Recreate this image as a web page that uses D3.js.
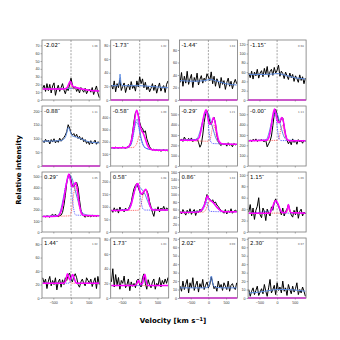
<!DOCTYPE html>
<html>
<head>
<meta charset="utf-8">
<script src="https://cdn.jsdelivr.net/npm/d3@7"></script>
<style>
  body { margin: 0; background: #fff; }
</style>
</head>
<body>
<div id="chart"></div>
<script>
/* global d3 */
const offsets = ['-2.02', '-1.73', '-1.44', '-1.15', '-0.88', '-0.58', '-0.29', '-0.00',
  '0.29', '0.58', '0.86', '1.15', '1.44', '1.73', '2.02', '2.30']
const chiLabels = ['1.06', '1.02', '1.04', '0.98', '1.11', '1.09', '1.21', '1.13',
  '1.05', '1.08', '1.04', '1.06', '1.02', '1.03', '0.99', '0.97']
const yTop = [77, 88, 96, 129, 218, 494, 581, 580, 539, 238, 160, 105, 89, 82, 71, 71]
const yStep = [10, 20, 20, 20, 50, 100, 100, 100, 100, 50, 20, 20, 20, 20, 10, 10]
const xTicks = [-500, 0, 500]

const velocity = [-800, -760, -720, -680, -640, -600, -560, -520, -480, -440, -400, -360, -320, -280,
  -240, -200, -160, -120, -80, -40, 0, 40, 80, 120, 160, 200, 240, 280, 320, 360, 400, 440, 480,
  520, 560, 600, 640, 680, 720, 760, 800]

// observed spectra, one row per offset
const spectra = [
  [15, 19, 11, 21, 12, 20, 9, 18, 22, 6, 14, 19, 11, 16, 21, 13, 8, 15, 12, 20, 28, 19, 14, 17, 11, 15, 9, 16, 13, 10, 15, 8, 12, 14, 10, 16, 7, 13, 18, 9, 3],
  [22, 16, 28, 12, 24, 18, 30, 14, 20, 25, 11, 19, 23, 15, 27, 17, 21, 13, 28, 19, 34, 24, 31, 18, 26, 15, 20, 12, 17, 24, 14, 22, 10, 18, 25, 13, 19, 21, 11, 23, 28],
  [28, 44, 22, 38, 27, 46, 25, 34, 41, 20, 36, 29, 43, 24, 33, 39, 27, 35, 30, 42, 37, 31, 45, 26, 38, 22, 34, 29, 19, 36, 25, 31, 17, 28, 35, 22, 30, 18, 27, 33, 26],
  [58, 48, 62, 45, 60, 52, 66, 47, 58, 63, 50, 68, 55, 72, 49, 61, 66, 53, 70, 58, 64, 75, 51, 62, 57, 46, 60, 52, 44, 58, 48, 55, 40, 52, 46, 38, 54, 42, 50, 35, 47],
  [92, 85, 97, 88, 94, 80, 96, 87, 99, 84, 93, 86, 101, 90, 98, 104, 112, 125, 150, 138, 120, 112, 118, 106, 115, 100, 108, 95, 103, 88, 96, 82, 90, 78, 92, 80, 86, 94, 79, 88, 84],
  [148, 152, 145, 155, 150, 147, 153, 149, 156, 151, 146, 154, 160, 172, 205, 280, 370, 440, 455, 420, 360, 320, 310, 275, 290, 225, 190, 160, 140, 132, 138, 128, 135, 125, 131, 122, 128, 134, 126, 130, 124],
  [245, 262, 238, 280, 255, 243, 268, 250, 272, 236, 258, 249, 265, 230, 182, 210, 300, 420, 505, 535, 490, 430, 400, 445, 470, 410, 300, 235, 210, 198, 220, 205, 215, 192, 225, 200, 212, 186, 218, 205, 210],
  [240, 252, 236, 258, 245, 262, 238, 250, 247, 255, 241, 236, 248, 185, 215, 240, 290, 390, 500, 548, 500, 440, 420, 460, 465, 380, 300, 250, 215, 240, 205, 262, 228, 248, 210, 255, 232, 246, 220, 250, 238],
  [138, 142, 136, 145, 140, 133, 150, 158, 146, 160, 143, 138, 147, 152, 175, 240, 330, 440, 505, 520, 470, 410, 405, 430, 445, 400, 290, 200, 160, 145, 132, 150, 138, 147, 135, 152, 141, 148, 139, 150, 146],
  [88, 78, 96, 82, 92, 75, 99, 84, 90, 80, 95, 86, 91, 104, 118, 148, 172, 185, 192, 175, 160, 152, 148, 160, 168, 165, 150, 120, 100, 78, 62, 92, 85, 100, 80, 95, 88, 102, 84, 96, 90],
  [55, 48, 60, 52, 45, 58, 50, 62, 47, 55, 60, 44, 57, 52, 61, 55, 63, 70, 85, 100, 92, 88, 82, 86, 78, 80, 72, 68, 62, 58, 54, 50, 60, 48, 57, 52, 62, 50, 55, 58, 56],
  [35, 48, 28, 42, 22, 38, 45, 60, 30, 25, 42, 36, 20, 40, 33, 28, 44, 38, 52, 58, 50, 46, 38, 30, 42, 28, 36, 40, 48, 38, 30, 26, 38, 30, 44, 24, 36, 40, 28, 35, 32],
  [30, 22, 28, 14, 25, 32, 18, 26, 20, 30, 12, 24, 28, 16, 27, 20, 30, 26, 34, 37, 28, 24, 32, 36, 30, 20, 16, 24, 28, 22, 18, 30, 26, 22, 28, 17, 24, 30, 14, 32, 20],
  [22, 40, 15, 32, 18, 28, 12, 24, 20, 30, 14, 18, 26, 10, 22, 16, 20, 14, 24, 26, 18, 15, 28, 33, 20, 12, 25, 18, 14, 22, 26, 12, 20, 17, 28, 15, 24, 19, 26, 20, 28],
  [14, 8, 20, 10, 16, 22, 6, 18, 12, 24, 9, 15, 20, 7, 17, 12, 22, 10, 15, 19, 12, 16, 25, 18, 11, 14, 8, 20, 12, 16, 9, 18, 14, 10, 20, 8, 15, 17, 12, 10, 18],
  [10, 2, 8, 12, 4, 9, 14, 3, 7, 11, 5, 16, 8, 2, 12, 22, 6, 10, 15, 4, 18, 9, 13, 6, 20, 8, 12, 3, 16, 10, 5, 14, 7, 11, 18, 4, 10, 6, 13, 8, 2]
]

// model curves as [velocity, intensity] knots (null = not drawn)
const modelLine = [
  [[-800, 14], [-100, 14.5], [0, 15], [200, 14.5], [500, 12.5], [800, 11.5]],
  [[-800, 21], [-620, 21], [-580, 26], [-555, 38], [-530, 25], [-500, 21], [0, 21], [400, 19.5], [800, 18]],
  [[-800, 31], [-400, 30], [-100, 31], [50, 33], [200, 31], [500, 26], [800, 24]],
  [[-800, 55], [-400, 55], [-100, 56], [0, 57], [200, 54], [500, 48], [800, 45]],
  [[-800, 90], [-300, 92], [-180, 100], [-120, 120], [-80, 140], [-30, 128], [30, 110], [150, 105], [300, 98], [500, 88], [800, 84]],
  [[-800, 148], [-350, 150], [-250, 175], [-170, 280], [-110, 370], [-70, 385], [-20, 330], [40, 230], [100, 175], [180, 145], [300, 135], [800, 130]],
  [[-800, 250], [-350, 255], [-250, 320], [-150, 450], [-60, 525], [0, 510], [60, 440], [130, 360], [200, 280], [300, 225], [450, 210], [800, 208]],
  [[-800, 245], [-320, 250], [-230, 320], [-140, 450], [-60, 520], [0, 505], [60, 440], [130, 350], [200, 280], [300, 250], [800, 245]],
  [[-800, 140], [-400, 145], [-300, 190], [-200, 330], [-100, 470], [-30, 510], [30, 480], [100, 400], [180, 300], [260, 210], [350, 165], [500, 150], [800, 148]],
  [[-800, 85], [-350, 88], [-250, 110], [-150, 160], [-60, 185], [0, 178], [80, 165], [150, 150], [230, 120], [320, 95], [450, 88], [800, 87]],
  [[-800, 52], [-300, 54], [-180, 62], [-80, 80], [0, 90], [80, 84], [180, 72], [300, 60], [420, 55], [800, 54]],
  null,
  null,
  null,
  [[-800, 12], [-100, 12], [0, 13], [50, 20], [85, 26], [120, 18], [180, 13], [400, 12], [800, 12]],
  [[-800, 6], [-500, 7], [-200, 9], [0, 10], [300, 10], [600, 9], [800, 8]]
]

const zeroFit = [[-820, 0], [820, 0]]
const fitTotal = [
  [[-800, 14], [-200, 14], [-110, 16], [-50, 22], [-20, 24], [20, 20], [60, 17.5], [150, 16], [300, 14], [500, 12.5], [800, 11.5]],
  zeroFit, zeroFit, zeroFit, zeroFit,
  [[-800, 150], [-380, 150], [-300, 165], [-220, 230], [-150, 360], [-90, 460], [-50, 430], [0, 340], [50, 295], [100, 270], [150, 230], [220, 170], [300, 140], [400, 132], [800, 130]],
  [[-800, 250], [-350, 250], [-260, 275], [-190, 380], [-120, 500], [-65, 545], [-20, 480], [30, 405], [80, 410], [140, 470], [180, 440], [240, 320], [300, 240], [380, 215], [800, 210]],
  [[-800, 245], [-300, 248], [-230, 280], [-170, 380], [-110, 510], [-70, 550], [-25, 490], [30, 420], [70, 425], [130, 470], [170, 445], [230, 320], [290, 255], [360, 245], [800, 245]],
  [[-800, 140], [-400, 142], [-300, 170], [-200, 300], [-120, 450], [-60, 520], [-20, 470], [30, 405], [80, 420], [130, 445], [170, 400], [220, 280], [280, 180], [350, 150], [800, 145]],
  [[-800, 85], [-350, 87], [-250, 105], [-170, 150], [-100, 185], [-50, 192], [0, 165], [50, 150], [110, 160], [170, 170], [220, 150], [280, 110], [340, 90], [400, 87], [800, 87]],
  [[-800, 52], [-300, 53], [-200, 58], [-120, 70], [-60, 88], [-30, 97], [0, 90], [60, 84], [150, 77], [250, 65], [350, 57], [450, 54], [800, 54]],
  [[-800, 33], [-220, 33], [-150, 40], [-80, 52], [-30, 55], [20, 50], [80, 40], [140, 34], [240, 34], [290, 40], [320, 48], [350, 40], [390, 34], [800, 33]],
  [[-800, 22], [-200, 22], [-150, 26], [-100, 36], [-60, 30], [-30, 27], [0, 30], [50, 35], [100, 28], [150, 22], [800, 22]],
  [[-800, 17], [-150, 17], [-80, 20], [-30, 24], [20, 19], [80, 20], [120, 30], [150, 32], [180, 24], [230, 17], [800, 17]],
  zeroFit, zeroFit
]

const redComp = [
  [[-800, 14], [-150, 14], [-80, 17], [-40, 21], [-10, 20], [40, 15], [100, 14.5], [300, 14], [500, 12.5], [800, 11.5]],
  null, null, null, null,
  [[-800, 150], [-200, 152], [-100, 175], [0, 260], [60, 285], [120, 260], [200, 190], [280, 150], [400, 132], [800, 130]],
  [[-800, 250], [0, 240], [60, 270], [110, 360], [150, 400], [190, 360], [240, 270], [300, 225], [380, 215], [800, 210]],
  [[-800, 245], [20, 248], [70, 290], [110, 370], [150, 395], [190, 350], [240, 270], [300, 246], [800, 245]],
  [[-800, 140], [-40, 145], [20, 200], [80, 350], [130, 410], [180, 350], [240, 220], [300, 160], [360, 146], [800, 145]],
  [[-800, 85], [-50, 86], [20, 100], [100, 150], [170, 168], [230, 140], [300, 100], [370, 88], [800, 87]],
  [[-800, 52], [-150, 53], [-60, 62], [0, 78], [60, 84], [150, 77], [250, 65], [350, 57], [450, 54], [800, 54]],
  [[-800, 33], [250, 33], [300, 38], [320, 46], [345, 38], [400, 33], [800, 33]],
  [[-800, 22], [-180, 22], [-120, 28], [-90, 33], [-50, 28], [0, 22], [800, 22]],
  [[-800, 17], [-100, 17], [-40, 22], [0, 20], [50, 17], [800, 17]],
  null, null
]

const blueComp = [
  null, null, null, null, null,
  [[-800, 150], [-300, 155], [-200, 220], [-130, 330], [-80, 360], [-30, 320], [20, 240], [80, 180], [150, 150], [300, 140], [400, 132], [800, 130]],
  [[-800, 250], [-300, 260], [-200, 350], [-120, 490], [-65, 530], [-20, 470], [20, 330], [60, 240], [120, 218], [380, 215], [800, 210]],
  [[-800, 245], [-260, 255], [-180, 350], [-110, 490], [-70, 520], [-25, 460], [20, 330], [60, 260], [120, 246], [800, 245]],
  [[-800, 140], [-350, 150], [-250, 230], [-150, 420], [-70, 500], [-20, 470], [30, 330], [80, 200], [130, 152], [350, 150], [800, 145]],
  [[-800, 85], [-300, 90], [-200, 130], [-110, 180], [-60, 188], [-10, 165], [40, 120], [90, 92], [150, 87], [800, 87]],
  [[-800, 52], [-250, 54], [-150, 60], [-80, 72], [-40, 80], [-10, 70], [20, 57], [60, 55], [450, 54], [800, 54]],
  [[-800, 33], [-150, 38], [-80, 50], [-30, 53], [20, 48], [80, 38], [150, 33], [800, 33]],
  [[-800, 22], [-50, 22], [0, 27], [50, 33], [100, 26], [150, 22], [800, 22]],
  [[-800, 17], [60, 17], [120, 28], [150, 30], [190, 20], [250, 17], [800, 17]],
  null, null
]

const width = 340
const height = 340
const panelW = 58
const panelH = 60
const colStep = 68.7
const rowStep = 66
const left0 = 42
const top0 = 40

const svg = d3.select('#chart')
  .append('svg')
  .attr('width', width)
  .attr('height', height)
  .style('font-family', 'DejaVu Sans, sans-serif')

const x = d3.scaleLinear().domain([-820, 820]).range([0, panelW])

offsets.forEach((off, i) => {
  const col = i % 4
  const row = Math.floor(i / 4)
  const y = d3.scaleLinear().domain([0, yTop[i]]).range([panelH, 0])

  const g = svg.append('g')
    .attr('transform', `translate(${left0 + col * colStep}, ${top0 + row * rowStep})`)

  // clip slightly below the frame so the zero-level fit stays visible
  g.append('clipPath').attr('id', `clip-${i}`)
    .append('rect').attr('y', -1).attr('width', panelW).attr('height', panelH + 2)

  const plot = g.append('g').attr('clip-path', `url(#clip-${i})`)

  const raw = d3.line().x((d) => x(d[0])).y((d) => y(d[1]))
  const smooth = d3.line().curve(d3.curveMonotoneX).x((d) => x(d[0])).y((d) => y(d[1]))

  plot.append('line')
    .attr('x1', x(0)).attr('x2', x(0))
    .attr('y1', 0).attr('y2', panelH)
    .attr('stroke', '#666')
    .attr('stroke-width', 0.6)
    .attr('stroke-dasharray', '2,1.3')

  plot.append('path')
    .datum(velocity.map((v, k) => [v, spectra[i][k]]))
    .attr('d', raw)
    .attr('fill', 'none')
    .attr('stroke', '#000')
    .attr('stroke-width', 1)
    .attr('stroke-linejoin', 'round')

  if (modelLine[i]) {
    plot.append('path').datum(modelLine[i]).attr('d', smooth)
      .attr('fill', 'none').attr('stroke', '#5a8ae0').attr('stroke-width', 1)
  }
  if (redComp[i]) {
    plot.append('path').datum(redComp[i]).attr('d', smooth)
      .attr('fill', 'none').attr('stroke', '#ff4d4d').attr('stroke-width', 0.8)
      .attr('stroke-dasharray', '1,0.8')
  }
  if (blueComp[i]) {
    plot.append('path').datum(blueComp[i]).attr('d', smooth)
      .attr('fill', 'none').attr('stroke', '#3d3dff').attr('stroke-width', 0.8)
      .attr('stroke-dasharray', '1,0.8')
  }
  plot.append('path').datum(fitTotal[i]).attr('d', smooth)
    .attr('fill', 'none').attr('stroke', '#ff00ff').attr('stroke-width', 1.5)

  const yAxis = d3.axisLeft(y)
    .tickValues(d3.range(0, yTop[i] + 0.001, yStep[i]))
    .tickSize(1.5)
    .tickPadding(1)
  g.append('g').call(yAxis)
    .call((s) => s.select('.domain').remove())
    .call((s) => s.selectAll('line').attr('stroke', '#555').attr('stroke-width', 0.5))
    .selectAll('text').attr('font-size', 3.6).attr('fill', '#333')

  const xAxis = d3.axisBottom(x)
    .tickValues(xTicks)
    .tickSize(1.5)
    .tickPadding(1.5)
    .tickFormat(row === 3 ? d3.format('') : () => '')
  g.append('g').attr('transform', `translate(0, ${panelH})`).call(xAxis)
    .call((s) => s.select('.domain').remove())
    .call((s) => s.selectAll('line').attr('stroke', '#555').attr('stroke-width', 0.5))
    .selectAll('text').attr('font-size', 3.6).attr('fill', '#333')

  g.append('rect')
    .attr('width', panelW).attr('height', panelH)
    .attr('fill', 'none').attr('stroke', '#7a7a7a').attr('stroke-width', 0.8)

  g.append('text')
    .attr('x', 2).attr('y', 6.8)
    .attr('font-size', 5.4)
    .text(`${off}\u2033`)

  g.append('text')
    .attr('x', panelW - 8).attr('y', 6.6)
    .attr('font-size', 2.6)
    .attr('fill', '#555')
    .text(chiLabels[i])
})

svg.append('text')
  .attr('transform', 'translate(21, 170) rotate(-90)')
  .attr('text-anchor', 'middle')
  .attr('font-size', 7)
  .attr('font-weight', 600)
  .text('Relative intensity')

const xt = svg.append('text')
  .attr('x', 173).attr('y', 323)
  .attr('text-anchor', 'middle')
  .attr('font-size', 7)
  .attr('font-weight', 600)
xt.append('tspan').text('Velocity [km s')
xt.append('tspan').attr('dy', -2.5).attr('font-size', 5).text('\u22121')
xt.append('tspan').attr('dy', 2.5).text(']')
</script>
</body>
</html>
